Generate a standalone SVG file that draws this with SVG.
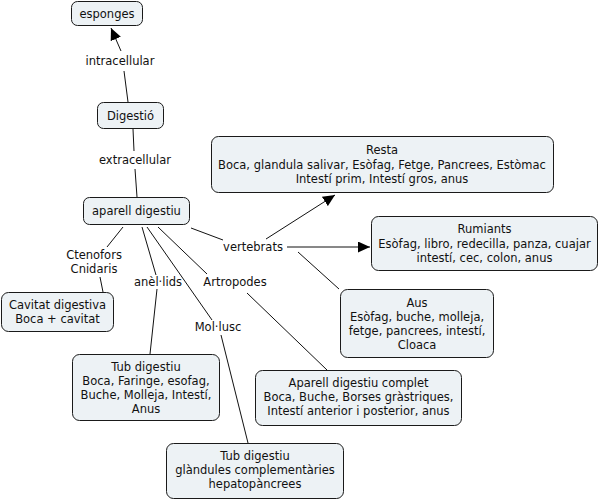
<svg xmlns="http://www.w3.org/2000/svg" width="605" height="501" viewBox="0 0 605 501">
<style>
.n rect{fill:#edf2f5;stroke:#1a1a1a;stroke-width:1}
text{font-family:"DejaVu Sans","Liberation Sans",sans-serif;font-size:11.5px;fill:#111;text-anchor:middle}
.c line{stroke:#111;stroke-width:1}
</style>
<defs>
<marker id="a" markerUnits="userSpaceOnUse" markerWidth="12" markerHeight="11" refX="12" refY="5.5" orient="auto">
<path d="M0,0 L12,5.5 L0,11 Z" fill="#000"/>
</marker>
</defs>
<rect width="605" height="501" fill="#fff"/>
<g class="c" id="connectors">
<line x1="128" y1="102" x2="124" y2="71"/>
<line x1="121" y1="51" x2="111" y2="28" marker-end="url(#a)"/>
<line x1="133" y1="129" x2="134" y2="151"/>
<line x1="135" y1="169" x2="137" y2="197"/>
<line x1="123" y1="227" x2="107" y2="247"/>
<line x1="100" y1="277" x2="103" y2="292"/>
<line x1="142" y1="227" x2="156" y2="275"/>
<line x1="157" y1="289" x2="150" y2="354"/>
<line x1="147" y1="227" x2="212" y2="320"/>
<line x1="221" y1="335" x2="248" y2="443"/>
<line x1="158" y1="227" x2="207" y2="274"/>
<line x1="247" y1="293" x2="327" y2="370"/>
<line x1="191" y1="228" x2="223" y2="240"/>
<line x1="266" y1="239" x2="335" y2="195" marker-end="url(#a)"/>
<line x1="287" y1="247" x2="370" y2="247" marker-end="url(#a)"/>
<line x1="298" y1="252" x2="339" y2="289"/>
</g>
<g id="labels">
<text x="120" y="65">intracellular</text>
<text x="135" y="164">extracellular</text>
<text x="94" y="259">Ctenofors</text>
<text x="94" y="273">Cnidaris</text>
<text x="158" y="286">anèl·lids</text>
<text x="218" y="331">Mol·lusc</text>
<text x="235" y="286">Artropodes</text>
<text x="253" y="251">vertebrats</text>
</g>
<g class="n" id="esponges"><rect x="71.5" y="1.5" width="71" height="24" rx="6"/><text x="107" y="17.5">esponges</text></g>
<g class="n" id="digestio"><rect x="97.5" y="102.5" width="66" height="26" rx="6"/><text x="130.5" y="119.5">Digestió</text></g>
<g class="n" id="aparell"><rect x="83.5" y="197.5" width="106" height="27" rx="6"/><text x="136.5" y="215">aparell digestiu</text></g>
<g class="n" id="resta"><rect x="211.5" y="136.5" width="342" height="56" rx="7"/>
<text x="382" y="154">Resta</text><text x="382" y="168.5">Boca, glandula salivar, Esòfag, Fetge, Pancrees, Estòmac</text><text x="382" y="182.5">Intestí prim, Intestí gros, anus</text></g>
<g class="n" id="rumiants"><rect x="371.5" y="216.5" width="226" height="54" rx="7"/>
<text x="484.5" y="233">Rumiants</text><text x="484.5" y="247.5">Esòfag, libro, redecilla, panza, cuajar</text><text x="484.5" y="261.5">intestí, cec, colon, anus</text></g>
<g class="n" id="cavitat"><rect x="1.5" y="292.5" width="112" height="39" rx="7"/>
<text x="57.5" y="309">Cavitat digestiva</text><text x="57.5" y="323">Boca + cavitat</text></g>
<g class="n" id="tub1"><rect x="72.5" y="354.5" width="147" height="66" rx="7"/>
<text x="146" y="371">Tub digestiu</text><text x="146" y="385">Boca, Faringe, esofag,</text><text x="146" y="399">Buche, Molleja, Intestí,</text><text x="146" y="413">Anus</text></g>
<g class="n" id="aus"><rect x="340.5" y="289.5" width="153" height="68" rx="7"/>
<text x="417" y="307">Aus</text><text x="417" y="321">Esòfag, buche, molleja,</text><text x="417" y="335">fetge, pancrees, intestí,</text><text x="417" y="348.5">Cloaca</text></g>
<g class="n" id="artropodes"><rect x="255.5" y="370.5" width="206" height="55" rx="7"/>
<text x="358.5" y="387">Aparell digestiu complet</text><text x="358.5" y="401">Boca, Buche, Borses gràstriques,</text><text x="358.5" y="415">Intestí anterior i posterior, anus</text></g>
<g class="n" id="tub2"><rect x="166.5" y="443.5" width="177" height="55" rx="7"/>
<text x="255" y="460">Tub digestiu</text><text x="255" y="474">glàndules complementàries</text><text x="255" y="488">hepatopàncrees</text></g>
</svg>
